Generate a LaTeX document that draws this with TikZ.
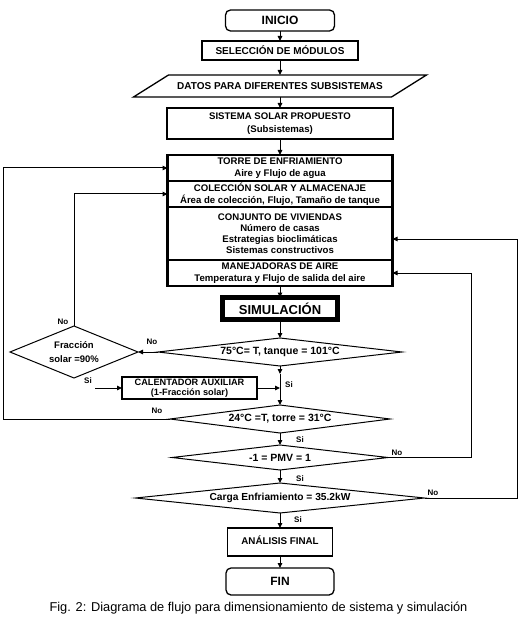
\documentclass[tikz,border=0pt]{standalone}
\usepackage{fontspec}
\setmainfont{Liberation Sans}
\usetikzlibrary{shapes.geometric,arrows.meta}
\begin{document}
\begin{tikzpicture}[x=1pt,y=-1pt,
  every node/.style={inner sep=0pt, outer sep=0pt},
  txt/.style={font=\bfseries\fontsize{9.6}{12.5}\selectfont, align=center},
  boxs/.style={draw, line width=1.3pt, txt},
  rbox/.style={boxs, rounded corners=5pt},
  sect/.style={draw, line width=1.8pt, minimum width=225pt, anchor=north, txt},
  dec/.style={draw, shape=diamond, line width=1pt, font=\bfseries\fontsize{10.5}{12}\selectfont, align=center},
  arr/.style={line width=1pt, -{Triangle[length=5pt,width=4.5pt]}},
  yn/.style={font=\bfseries\fontsize{8}{9}\selectfont}
]
\useasboundingbox (0,0) rectangle (520,620);

% main column
\node[rbox, minimum width=109pt, minimum height=21pt, font=\bfseries\fontsize{12}{14}\selectfont] (inicio) at (280,20.5) {INICIO};
\node[boxs, minimum width=156pt, minimum height=19pt, font=\bfseries\fontsize{10}{12}\selectfont] (sel) at (280,50.5) {SELECCIÓN DE MÓDULOS};
\node[minimum width=258pt, minimum height=22pt, font=\bfseries\fontsize{10}{12}\selectfont] (datos) at (280,86) {DATOS PARA DIFERENTES SUBSISTEMAS};
\draw[line width=1.3pt] ([xshift=17.5pt]datos.north west) -- ([xshift=17.5pt]datos.north east) -- ([xshift=-17.5pt]datos.south east) -- ([xshift=-17.5pt]datos.south west) -- cycle;
\node[draw, line width=2.8pt, minimum width=226pt, minimum height=31pt, font=\bfseries\fontsize{9.6}{13}\selectfont, align=center] (sist) at (280,123.5) {SISTEMA SOLAR PROPUESTO\\(Subsistemas)};

% big box sections
\node[sect, minimum height=26pt] (s1) at (280,155) {TORRE DE ENFRIAMIENTO\\Aire y Flujo de agua};
\node[sect, minimum height=26pt, font=\bfseries\fontsize{9.6}{11.5}\selectfont] (s2) at (280,181) {COLECCIÓN SOLAR Y ALMACENAJE\\Área de colección, Flujo, Tamaño de tanque};
\node[sect, minimum height=53pt, font=\bfseries\fontsize{9.6}{11}\selectfont] (s3) at (280,207) {CONJUNTO DE VIVIENDAS\\Número de casas\\Estrategias bioclimáticas\\Sistemas constructivos};
\node[sect, minimum height=26pt, font=\bfseries\fontsize{9.6}{12}\selectfont] (s4) at (280,260) {MANEJADORAS DE AIRE\\Temperatura y Flujo de salida del aire};
\draw[line width=2.8pt] (s1.north west) rectangle (s4.south east);

\node[draw, line width=5pt, minimum width=115pt, minimum height=22pt, font=\bfseries\fontsize{13}{15}\selectfont] (sim) at (280,308.5) {SIMULACIÓN};

\node[dec, minimum width=244pt, minimum height=28pt, aspect=8.7] (d1) at (280,352) {75°C= T, tanque = 101°C};
\node[dec, minimum width=128pt, minimum height=52pt, aspect=2.46, font=\bfseries\fontsize{9.5}{14}\selectfont] (fr) at (74,352) {Fracción\\solar =90\%};
\node[boxs, minimum width=135pt, minimum height=22pt, font=\bfseries\fontsize{9.2}{9.6}\selectfont] (cal) at (189.5,388) {CALENTADOR AUXILIAR\\(1-Fracción solar)};
\node[dec, minimum width=220pt, minimum height=28pt, aspect=7.86] (d2) at (280,419) {24°C =T, torre = 31°C};
\node[dec, minimum width=216pt, minimum height=25pt, aspect=8.64] (d3) at (280,457.5) {-1 = PMV = 1};
\node[dec, minimum width=289pt, minimum height=30pt, aspect=9.63, font=\bfseries\fontsize{10.2}{12}\selectfont] (d4) at (280,498) {Carga Enfriamiento = 35.2kW};
\node[boxs, minimum width=105pt, minimum height=28pt, font=\bfseries\fontsize{9.8}{11}\selectfont] (anal) at (280,542) {\raisebox{4pt}{ANÁLISIS FINAL}};
\node[rbox, minimum width=108pt, minimum height=27pt, font=\bfseries\fontsize{12}{14}\selectfont] (fin) at (280,581.5) {FIN};

\node[font=\fontsize{12.8}{14}\selectfont] (cap) at (258.5,608) {Fig. 2: Diagrama de flujo para dimensionamiento de sistema y simulación};

% helper coordinates
\coordinate (j1) at (280,374);
\coordinate (sistart) at (95,388);
\coordinate (lft) at (3,0);
\coordinate (rin) at (471,0);
\coordinate (rout) at (517,0);
\coordinate (s3in) at ([yshift=-5.5pt]s3.east);

% main connectors
\draw[arr] (inicio.south) -- (sel.north);
\draw[arr] (sel.south) -- (datos.north);
\draw[arr] (datos.south) -- (sist.north);
\draw[arr] (sist.south) -- (s1.north);
\draw[arr] (s4.south) -- (sim.north);
\draw[arr] (sim.south) -- (d1.north);
\draw[arr] (d1.south) -- (j1);
\draw[arr] (j1) -- (d2.north);
\draw[arr] (cal.east) -- (cal.east -| j1);
\draw[arr] (d2.south) -- (d3.north);
\draw[arr] (d3.south) -- (d4.north);
\draw[arr] (d4.south) -- (anal.north);
\draw[arr] (anal.south) -- (fin.north);

% side loops
\draw[arr] (d1.west) -- (fr.east);
\draw[arr] (fr.north) -- (fr.north |- s2.west) -- (s2.west);
\draw[arr] (sistart) -- (cal.west);
\draw[arr] (d2.west) -- (d2.west -| lft) -- (lft |- s1.west) -- (s1.west);
\draw[arr] (d3.east) -- (d3.east -| rin) -- (rin |- s4.east) -- (s4.east);
\draw[arr] (d4.east) -- (d4.east -| rout) -- (rout |- s3in) -- (s3in);

% labels
\node[yn] (no1) at (152,342) {No};
\node[yn] (no2) at (63,322) {No};
\node[yn] (si1) at (88,381) {Si};
\node[yn] (si2) at (289,385) {Si};
\node[yn] (no3) at (157,411) {No};
\node[yn] (si3) at (300,440) {Si};
\node[yn] (no4) at (397,453) {No};
\node[yn] (si4) at (300,479) {Si};
\node[yn] (no5) at (433,493) {No};
\node[yn] (si5) at (298,520) {Si};
\end{tikzpicture}
\end{document}
